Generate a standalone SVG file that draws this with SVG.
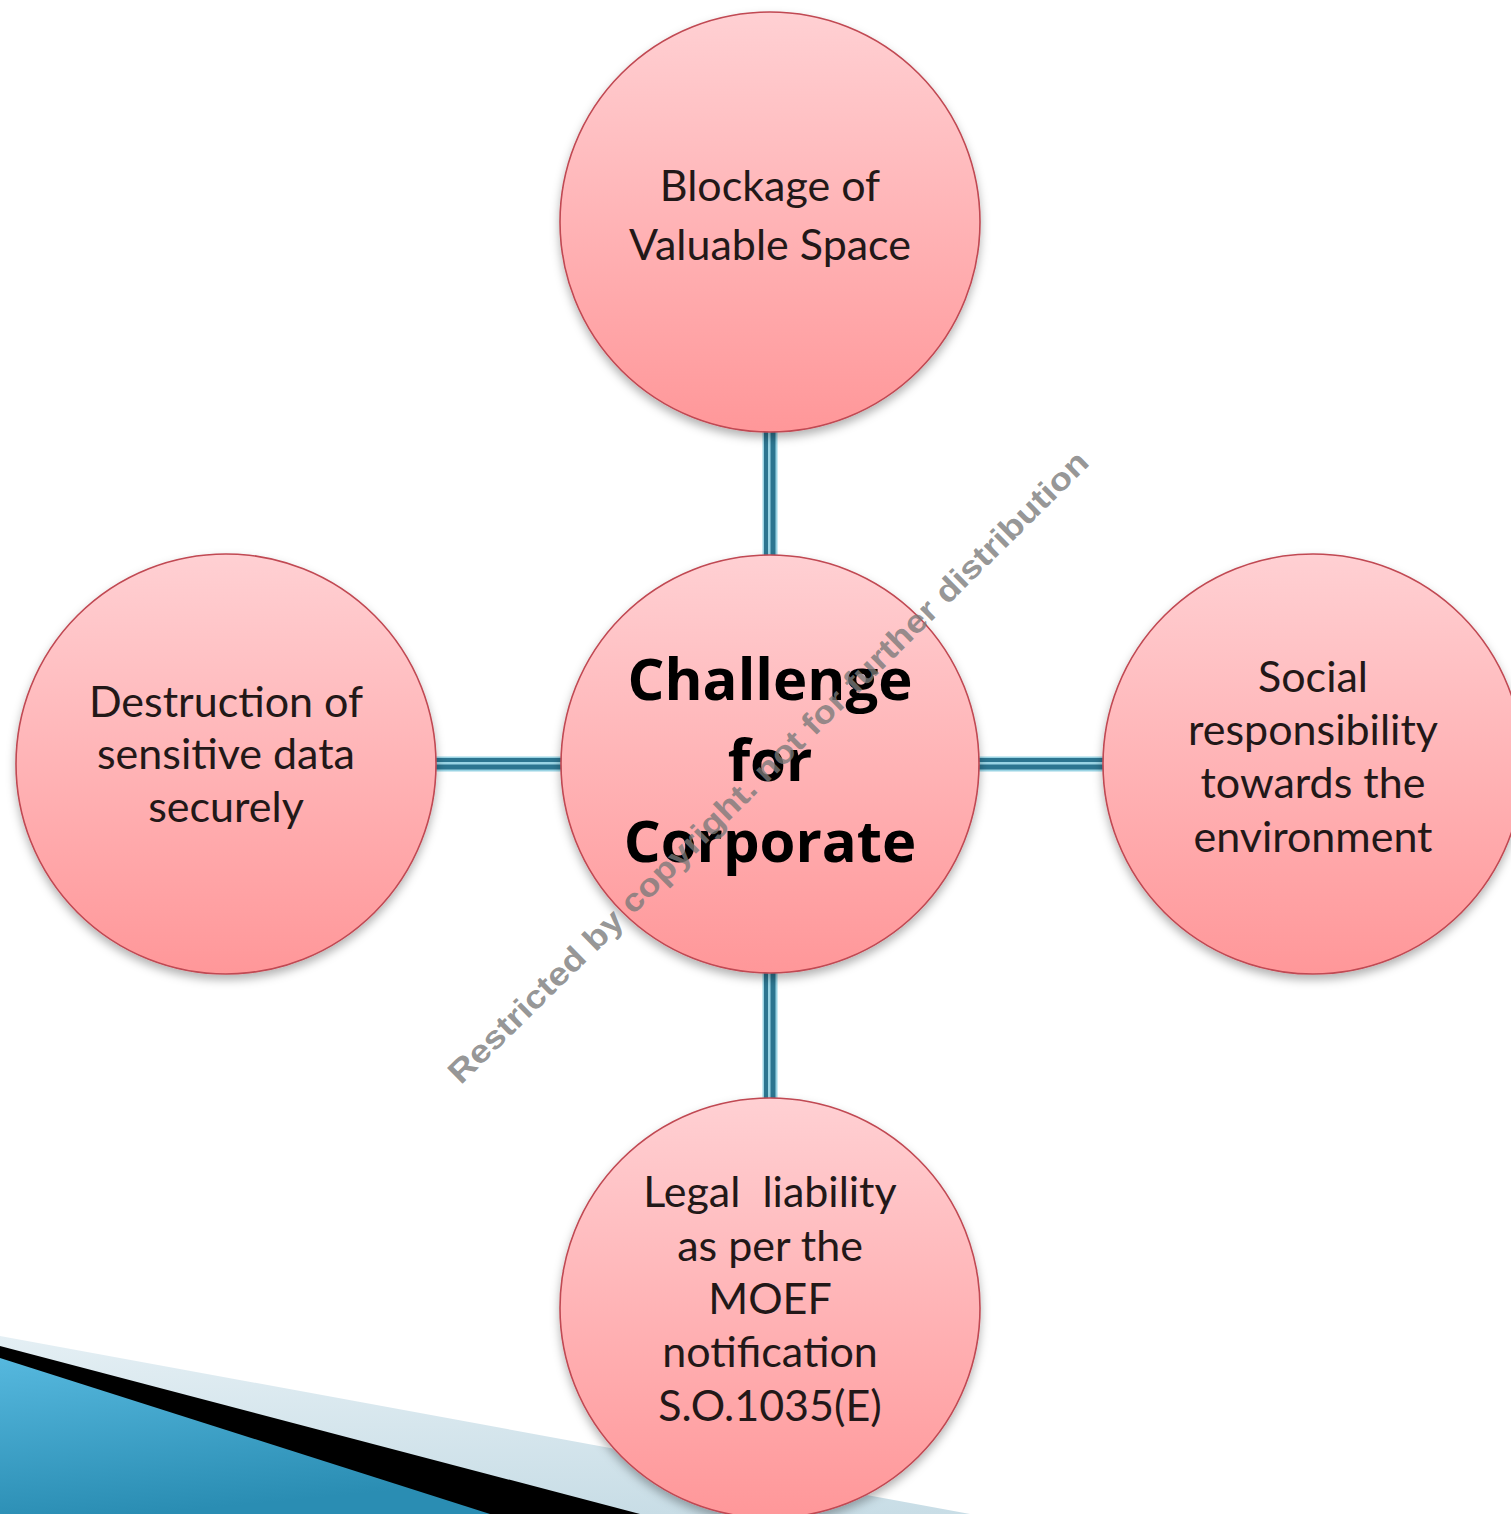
<svg xmlns="http://www.w3.org/2000/svg" width="1511" height="1514" viewBox="0 0 1511 1514">
<style>
.node circle{fill:url(#pink);stroke:#c04852;stroke-width:1.6;filter:url(#sh)}
.lbl{font-family:Lato,"Open Sans","Liberation Sans",sans-serif;font-size:43px;fill:#221818;text-anchor:middle}
.ctr{font-family:"Open Sans","Liberation Sans",sans-serif;font-weight:700;font-size:58px;fill:#000;text-anchor:middle}
.wm{font-family:"Liberation Sans",Arial,sans-serif;font-weight:700;font-size:32px;fill:#7a7a7a;fill-opacity:0.8;text-anchor:middle}
.c-base{stroke:#9ad4e4;stroke-width:15}
.c-dark{stroke:#2c7590}
</style>
<defs>
<linearGradient id="pink" x1="0" y1="0" x2="0" y2="1">
<stop offset="0" stop-color="#ffd0d3"/>
<stop offset="1" stop-color="#ff9799"/>
</linearGradient>
<linearGradient id="blue" x1="0" y1="0" x2="0.3" y2="1">
<stop offset="0" stop-color="#56b8de"/>
<stop offset="1" stop-color="#2a8db3"/>
</linearGradient>
<linearGradient id="pale" x1="0" y1="0" x2="0" y2="1">
<stop offset="0" stop-color="#e4eff4"/>
<stop offset="1" stop-color="#c8dde6"/>
</linearGradient>
<filter id="sh" x="-20%" y="-20%" width="140%" height="140%">
<feDropShadow dx="0" dy="5" stdDeviation="5" flood-color="#000" flood-opacity="0.3"/>
</filter>
</defs>
<rect width="1511" height="1514" fill="#fff"/>
<g id="decor">
<polygon points="0,1336 970,1514 0,1514" fill="url(#pale)"/>
<polygon points="0,1346 640,1514 0,1514" fill="#000"/>
<polygon points="0,1358 490,1514 0,1514" fill="url(#blue)"/>
</g>
<g id="connectors">
<line class="c-base" x1="770" y1="425" x2="770" y2="560"/>
<line class="c-dark" x1="766" y1="425" x2="766" y2="560" stroke-width="4"/>
<line class="c-dark" x1="773" y1="425" x2="773" y2="560" stroke-width="5"/>
<line class="c-base" x1="770" y1="968" x2="770" y2="1103"/>
<line class="c-dark" x1="766" y1="968" x2="766" y2="1103" stroke-width="4"/>
<line class="c-dark" x1="773" y1="968" x2="773" y2="1103" stroke-width="5"/>
<line class="c-base" x1="430" y1="764" x2="566" y2="764"/>
<line class="c-dark" x1="430" y1="760" x2="566" y2="760" stroke-width="4"/>
<line class="c-dark" x1="430" y1="767" x2="566" y2="767" stroke-width="5"/>
<line class="c-base" x1="974" y1="764" x2="1110" y2="764"/>
<line class="c-dark" x1="974" y1="760" x2="1110" y2="760" stroke-width="4"/>
<line class="c-dark" x1="974" y1="767" x2="1110" y2="767" stroke-width="5"/>
</g>
<g id="node-top" class="node">
<circle cx="770" cy="222" r="210"/>
<text class="lbl" x="770" y="201">Blockage of</text>
<text class="lbl" x="770" y="260">Valuable Space</text>
</g>
<g id="node-left" class="node">
<circle cx="226" cy="764" r="210"/>
<text class="lbl" x="226" y="717">Destruction of</text>
<text class="lbl" x="226" y="769">sensitive data</text>
<text class="lbl" x="226" y="822">securely</text>
</g>
<g id="node-right" class="node">
<circle cx="1313" cy="764" r="210"/>
<text class="lbl" x="1313" y="692">Social</text>
<text class="lbl" x="1313" y="745">responsibility</text>
<text class="lbl" x="1313" y="798">towards the</text>
<text class="lbl" x="1313" y="852">environment</text>
</g>
<g id="node-bottom" class="node">
<circle cx="770" cy="1308" r="210"/>
<text class="lbl" x="770" y="1207" xml:space="preserve">Legal  liability</text>
<text class="lbl" x="770" y="1261">as per the</text>
<text class="lbl" x="770" y="1314">MOEF</text>
<text class="lbl" x="770" y="1367">notification</text>
<text class="lbl" x="770" y="1421">S.O.1035(E)</text>
</g>
<g id="node-center" class="node">
<circle cx="770" cy="764" r="209"/>
<text class="ctr" x="770" y="700">Challenge</text>
<text class="ctr" x="770" y="781">for</text>
<text class="ctr" x="770" y="862">Corporate</text>
</g>
<text class="wm" transform="translate(768,767) rotate(-44.6)" x="0" y="11" textLength="885" lengthAdjust="spacingAndGlyphs">Restricted by copyright. not for further distribution</text>
</svg>
